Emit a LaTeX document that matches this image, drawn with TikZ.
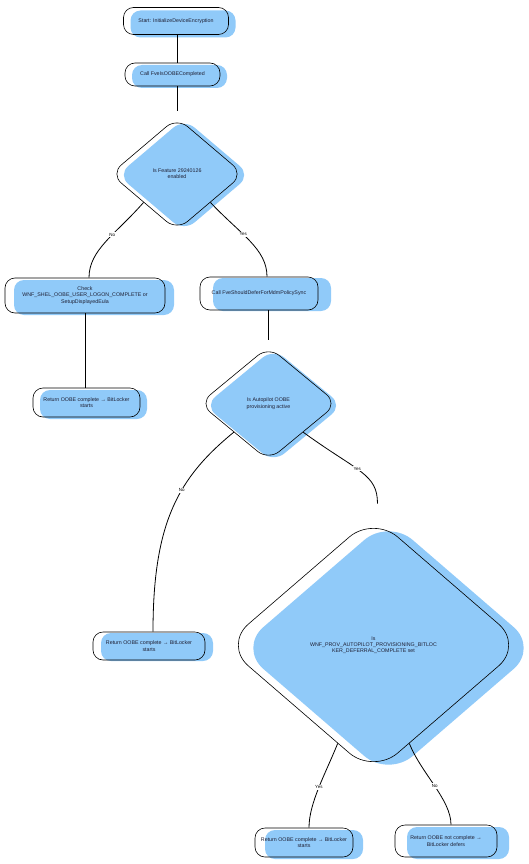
\documentclass[tikz,border=0pt]{standalone}
\usepackage{fontspec}
\setmainfont{Liberation Sans}
\usetikzlibrary{shapes.geometric,calc}
\definecolor{fillblue}{RGB}{144,202,249}
\definecolor{txt}{RGB}{30,30,50}
\begin{document}
\begin{tikzpicture}[x=1pt,y=-1pt,
  base/.style={draw=black, line width=0.6pt, inner sep=1pt, align=center, text=txt, font=\fontsize{5.3}{6.3}\selectfont},
  bluefill/.style={preaction={fill=fillblue, draw=none, transform canvas={shift={#1}}}},
  rbox/.style 2 args={base, rectangle, rounded corners=10pt, minimum width=#1, minimum height=#2},
  dia/.style n args={3}{base, diamond, rounded corners=#3, minimum width=#1, minimum height=#2},
  link/.style={draw=black, line width=0.8pt},
  lbl/.style={fill=white, inner sep=1pt, font=\fontsize{4.5}{5}\selectfont, text=black}
]
\fill[white] (0,0) rectangle (529,864);
\useasboundingbox (0,0) rectangle (529,864);

\node[rbox={105pt}{27pt}, bluefill={(7pt,-3pt)}] (start) at (176,21) {Start: InitializeDeviceEncryption};
\node[rbox={95pt}{23pt}, bluefill={(7pt,-2pt)}] (call1) at (172.5,74.5) {Call FveIsOOBECompleted};
\node[dia={133pt}{113pt}{14pt}, bluefill={(7pt,-1pt)}] (d1) at (177,174) {Is Feature 29240126\\enabled};
\node[rbox={160pt}{35pt}, bluefill={(9pt,-2pt)}] (check) at (85,295.5) {Check\\WNF\_SHEL\_OOBE\_USER\_LOGON\_COMPLETE or\\SetupDisplayedEula};
\node[rbox={118pt}{33pt}, bluefill={(13pt,-1pt)}] (callfve) at (259,293.5) {Call FveShouldDeferForMdmPolicySync};
\node[rbox={107pt}{29pt}, bluefill={(7pt,-2pt)}] (ret1) at (86.5,402.5) {Return OOBE complete → BitLocker\\starts};
\node[dia={138pt}{114pt}{14pt}, bluefill={(5pt,-2pt)}] (d2) at (268.5,403.5) {Is Autopilot OOBE\\provisioning active};
\node[rbox={112pt}{28pt}, bluefill={(8pt,-1pt)}] (ret2) at (149,646) {Return OOBE complete → BitLocker\\starts};
\node[dia={299pt}{258pt}{32pt}, bluefill={(15pt,-3pt)}] (d3) at (373.5,645) {Is\\WNF\_PROV\_AUTOPILOT\_PROVISIONING\_BITLOC\\KER\_DEFERRAL\_COMPLETE set};
\node[rbox={98pt}{29pt}, bluefill={(10pt,-2pt)}] (ret3) at (304,842.5) {Return OOBE complete → BitLocker\\starts};
\node[rbox={102pt}{32pt}, bluefill={(12pt,-2pt)}] (ret4) at (446,841) {Return OOBE not complete →\\BitLocker defers};

\draw[link] (start.south -| d1.north) -- (call1.north -| d1.north);
\draw[link] (call1.south -| d1.north) -- ([yshift=6pt]d1.north);
\draw[link] (d1.south west) .. controls +(-28,32) and +(0,-28) .. node[lbl,pos=0.4]{No} ([xshift=4pt]check.north);
\draw[link] (d1.south east) .. controls +(30,32) and +(0,-28) .. node[lbl,pos=0.4]{Yes} ([xshift=8pt]callfve.north);
\draw[link] (check.south) -- (check.south |- ret1.north);
\draw[link] (d2.north |- callfve.south) -- ([yshift=6pt]d2.north);
\draw[link] (d2.south west) .. controls +(-55,45) and +(0,-110) .. node[lbl,pos=0.4]{No} ([xshift=4pt]ret2.north);
\draw[link] (d2.south east) .. controls +(55,40) and +(0,-30) .. node[lbl,pos=0.45]{Yes} ([xshift=4pt,yshift=12pt]d3.north);
\draw[link] (d3.250) .. controls +(-12,30) and +(0,-25) .. node[lbl,pos=0.5]{Yes} ([xshift=5pt]ret3.north);
\draw[link] (d3.290) .. controls +(12,30) and +(0,-25) .. node[lbl,pos=0.5]{No} ([xshift=5pt]ret4.north);
\end{tikzpicture}
\end{document}
